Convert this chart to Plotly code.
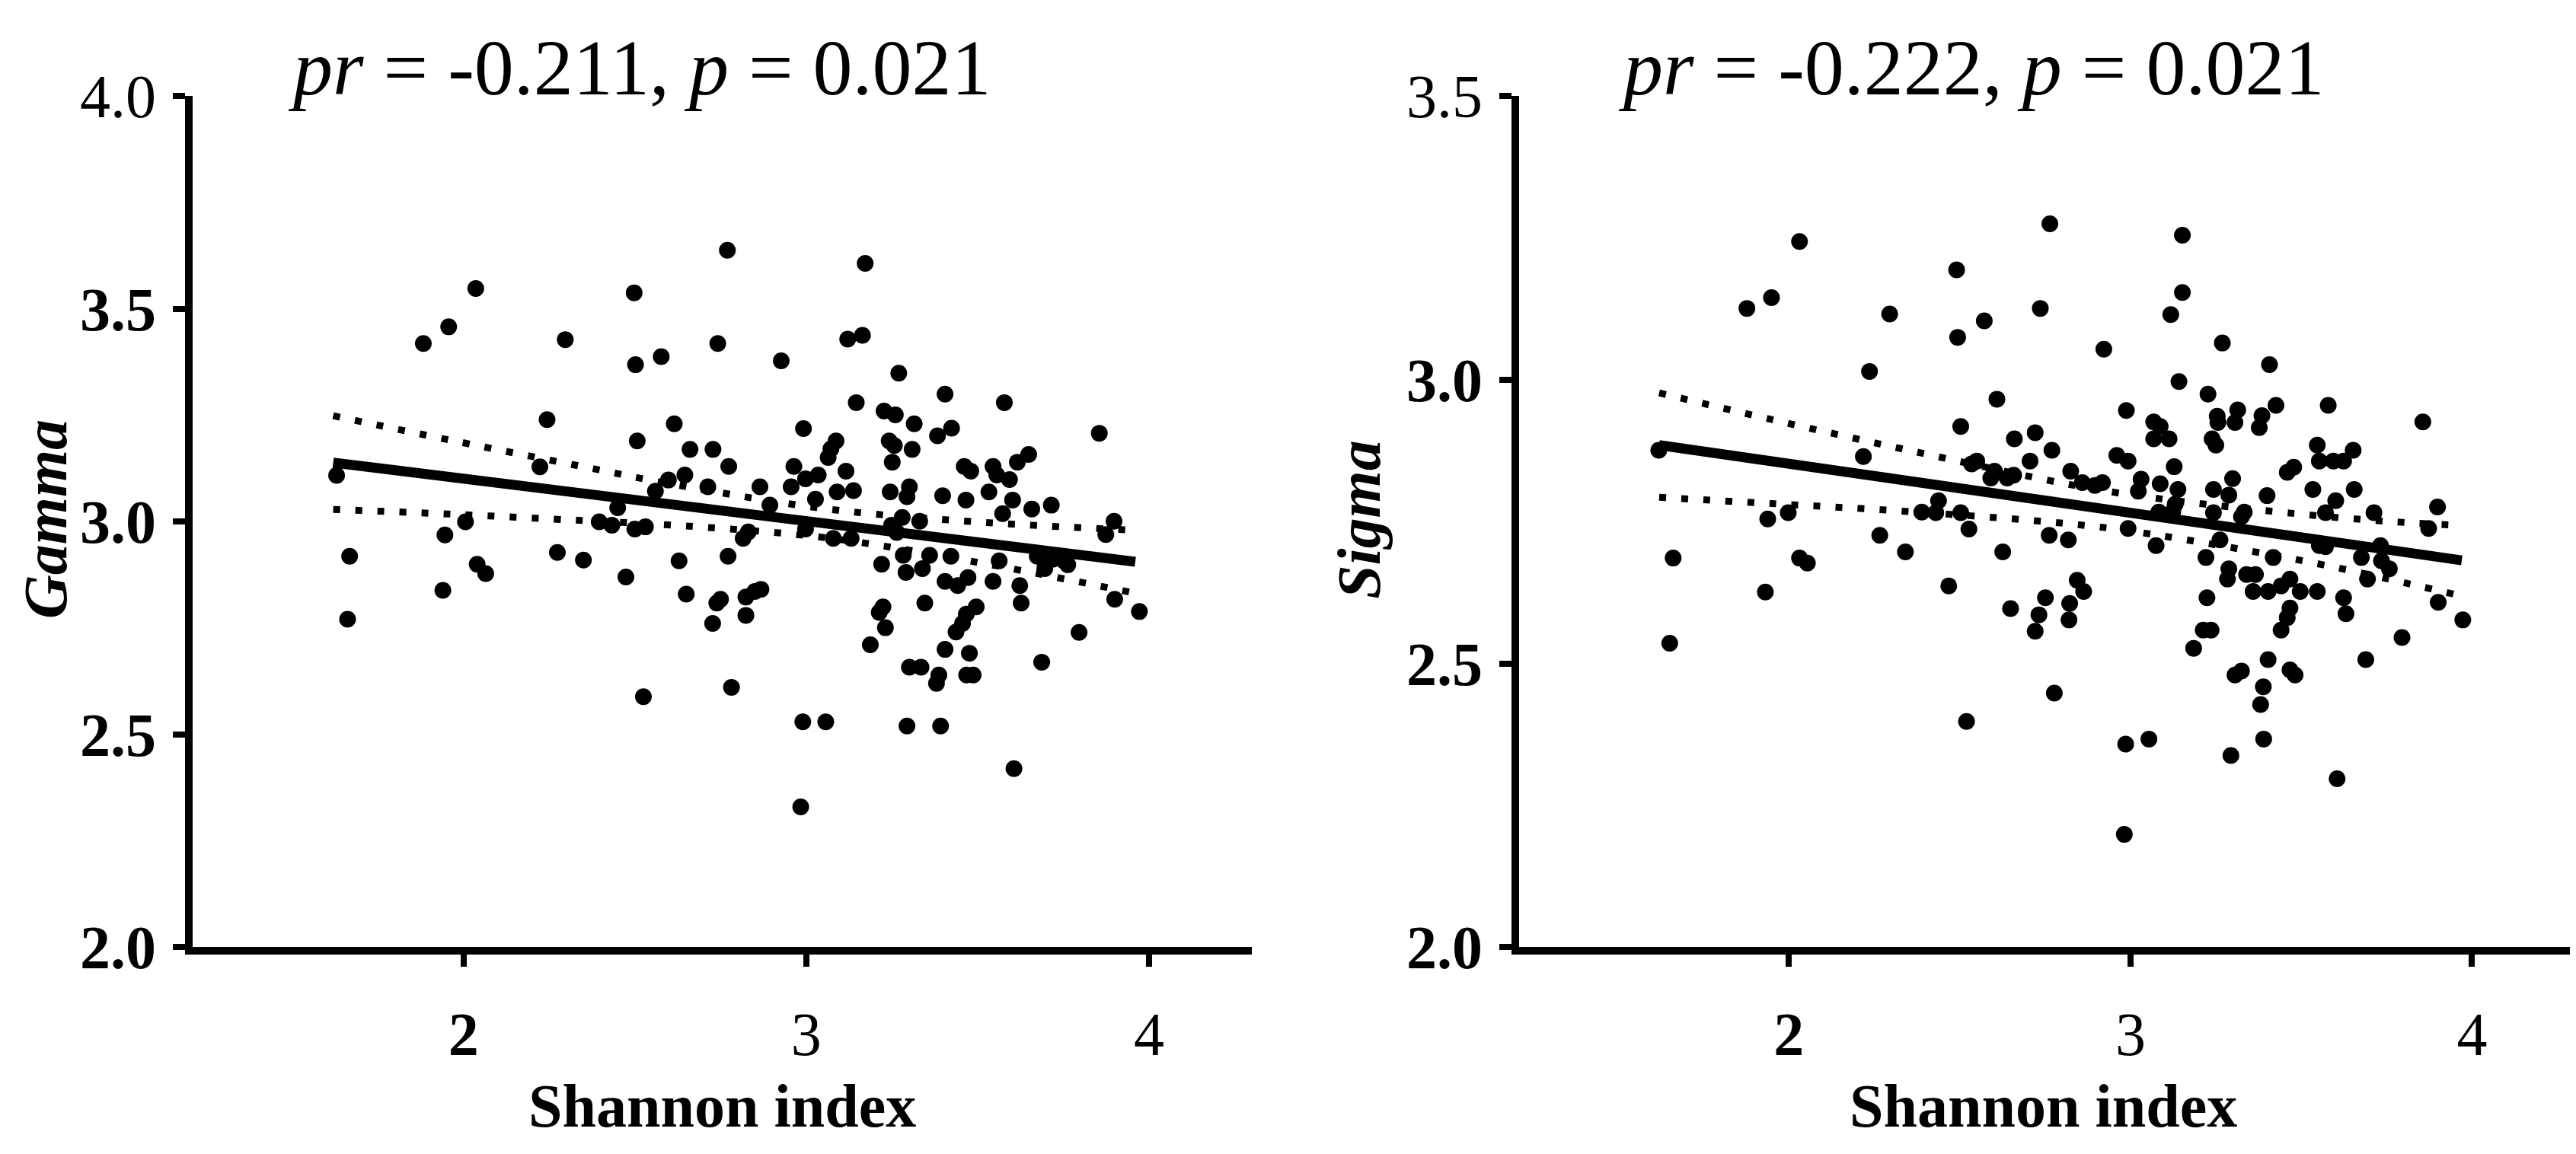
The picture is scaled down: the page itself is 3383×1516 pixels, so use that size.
import plotly.graph_objects as go

# ---------------- data ----------------
gamma_x = [2.036, 1.957, 1.883, 2.297, 2.244, 2.223, 1.630, 1.668, 1.662, 1.946, 2.006, 2.040, 2.065, 1.940,
           2.274, 2.350, 2.396, 2.433, 2.498, 2.502, 2.577, 2.615, 2.507, 2.661, 2.598, 2.646, 2.560, 2.450,
           2.500, 2.531, 2.474, 2.629, 2.650, 2.525, 2.770, 3.172, 2.742, 2.927, 3.121, 3.164, 3.270, 3.146,
           3.227, 3.260, 3.315, 2.992, 2.728, 2.774, 3.087, 3.072, 3.064, 3.242, 3.257, 3.309, 3.251, 2.964,
           3.116, 2.998, 3.035, 2.956, 2.713, 2.865, 3.090, 3.138, 3.245, 3.301, 3.294, 3.027, 2.894, 2.816,
           2.831, 2.998, 3.079, 3.131, 3.249, 3.280, 3.331, 3.264, 2.772, 3.220, 3.283, 3.291, 3.339, 2.750,
           2.739, 2.727, 2.824, 2.850, 2.868, 2.824, 3.224, 3.213, 3.231, 3.187, 3.346, 3.301, 3.335, 2.782,
           2.990, 3.057, 3.294, 2.984, 3.405, 3.578, 3.383, 3.424, 3.855, 3.461, 3.480, 3.545, 3.556, 3.593,
           3.616, 3.649, 3.398, 3.466, 3.533, 3.602, 3.573, 3.658, 3.715, 3.898, 3.874, 3.360, 3.422, 3.563,
           3.674, 3.696, 3.719, 3.752, 3.763, 3.405, 3.442, 3.472, 3.545, 3.623, 3.627, 3.900, 3.972, 3.496,
           3.467, 3.456, 3.437, 3.796, 3.405, 3.476, 3.468, 3.487, 3.387, 3.380, 3.687, 3.392, 3.606]
gamma_y = [3.548, 3.458, 3.419, 3.428, 3.240, 3.129, 3.109, 2.919, 2.771, 2.969, 3.000, 2.900, 2.878, 2.839,
           2.928, 2.910, 3.000, 2.992, 3.538, 3.369, 3.388, 3.230, 3.190, 3.170, 3.098, 3.110, 3.072, 3.033,
           2.983, 2.988, 2.870, 2.908, 2.830, 2.589, 3.638, 3.607, 3.419, 3.378, 3.429, 3.438, 3.349, 3.280,
           3.260, 3.251, 3.230, 3.219, 3.170, 3.130, 3.190, 3.171, 3.151, 3.190, 3.179, 3.170, 3.140, 3.130,
           3.119, 3.101, 3.110, 3.082, 3.082, 3.082, 3.070, 3.073, 3.070, 3.082, 3.059, 3.053, 3.039, 2.961,
           2.976, 2.983, 2.961, 2.961, 2.992, 3.010, 3.001, 2.975, 2.919, 2.900, 2.921, 2.881, 2.890, 2.818,
           2.809, 2.761, 2.823, 2.836, 2.841, 2.780, 2.800, 2.787, 2.751, 2.711, 2.809, 2.658, 2.658, 2.611,
           2.530, 2.530, 2.520, 2.330, 3.300, 3.280, 3.202, 3.220, 3.208, 3.130, 3.119, 3.130, 3.110, 3.099,
           3.140, 3.158, 3.061, 3.051, 3.070, 3.051, 3.019, 3.030, 3.039, 3.001, 2.970, 2.921, 2.919, 2.908,
           2.919, 2.890, 2.912, 2.908, 2.899, 2.860, 2.850, 2.869, 2.860, 2.850, 2.809, 2.818, 2.789, 2.800,
           2.783, 2.761, 2.741, 2.740, 2.700, 2.691, 2.640, 2.640, 2.640, 2.620, 2.670, 2.520, 2.420]

sigma_x = [2.031, 1.949, 1.877, 2.295, 2.236, 1.619, 2.218, 1.938, 1.998, 1.661, 2.031, 2.054, 1.931, 2.266,
           2.341, 1.651, 2.764, 2.491, 2.736, 2.572, 2.494, 3.152, 3.152, 3.118, 2.922, 3.142, 2.609, 2.988,
           2.503, 3.068, 3.087, 3.068, 3.113, 2.660, 2.721, 2.770, 2.706, 2.550, 2.535, 2.960, 2.993, 3.128,
           2.602, 2.591, 2.639, 2.658, 2.825, 2.859, 2.896, 2.918, 3.031, 3.023, 3.087, 3.139, 3.131, 2.438,
           2.389, 2.430, 2.503, 2.527, 2.762, 2.818, 2.993, 3.075, 3.083, 3.124, 2.626, 2.468, 2.844, 2.863,
           2.751, 2.822, 2.649, 2.732, 2.721, 2.820, 2.777, 2.520, 2.986, 3.054, 2.982, 3.269, 3.407, 3.227,
           3.254, 3.256, 3.314, 3.306, 3.385, 3.377, 3.426, 3.579, 3.856, 3.239, 3.250, 3.547, 3.652, 3.553,
           3.594, 3.624, 3.299, 3.459, 3.478, 3.243, 3.288, 3.400, 3.534, 3.655, 3.601, 3.899, 3.243, 3.325,
           3.333, 3.571, 3.713, 3.873, 3.262, 3.553, 3.571, 3.732, 3.221, 3.418, 3.676, 3.735, 3.758, 3.288,
           3.284, 3.340, 3.366, 3.694, 3.359, 3.403, 3.441, 3.467, 3.497, 3.547, 3.224, 3.624, 3.631, 3.901,
           3.973, 3.467, 3.459, 3.441, 3.213, 3.236, 3.185, 3.795, 3.403, 3.689, 3.306, 3.325, 3.467, 3.482,
           3.389, 3.381, 3.390, 3.294, 3.605]
sigma_y = [3.244, 3.145, 3.126, 3.116, 3.015, 2.876, 2.865, 2.755, 2.766, 2.686, 2.686, 2.677, 2.626, 2.726,
           2.697, 2.536, 3.275, 3.194, 3.126, 3.104, 3.075, 3.255, 3.154, 3.115, 3.054, 2.997, 2.966, 2.946,
           2.918, 2.926, 2.918, 2.896, 2.896, 2.896, 2.907, 2.876, 2.857, 2.857, 2.852, 2.867, 2.857, 2.847,
           2.839, 2.827, 2.827, 2.832, 2.839, 2.819, 2.814, 2.819, 2.825, 2.804, 2.817, 2.807, 2.781, 2.787,
           2.767, 2.766, 2.766, 2.737, 2.726, 2.718, 2.738, 2.708, 2.767, 2.768, 2.697, 2.637, 2.647, 2.627,
           2.616, 2.606, 2.597, 2.586, 2.557, 2.577, 2.448, 2.398, 2.358, 2.367, 2.199, 3.065, 3.027, 2.975,
           2.936, 2.925, 2.947, 2.925, 2.937, 2.916, 2.955, 2.955, 2.926, 2.896, 2.885, 2.885, 2.876, 2.857,
           2.857, 2.857, 2.826, 2.837, 2.846, 2.807, 2.797, 2.796, 2.807, 2.807, 2.787, 2.776, 2.766, 2.759,
           2.767, 2.766, 2.766, 2.738, 2.718, 2.708, 2.706, 2.708, 2.687, 2.687, 2.687, 2.681, 2.667, 2.667,
           2.649, 2.657, 2.657, 2.649, 2.627, 2.627, 2.637, 2.649, 2.627, 2.627, 2.616, 2.616, 2.588, 2.608,
           2.577, 2.598, 2.581, 2.559, 2.559, 2.559, 2.527, 2.546, 2.507, 2.507, 2.480, 2.487, 2.489, 2.480,
           2.459, 2.428, 2.367, 2.338, 2.297]

# regression lines and 95% confidence bands
gamma_fit_x = [1.62, 3.96]
gamma_fit_y = [3.139, 2.906]
gamma_ci_x = [1.62, 1.96, 2.42, 2.55, 3.05, 3.49, 3.96]
gamma_ci_hi = [3.249, 3.192, 3.118, 3.097, 3.031, 3.000, 2.980]
gamma_ci_lo = [3.029, 3.018, 3.000, 2.995, 2.963, 2.906, 2.832]

sigma_fit_x = [1.62, 3.97]
sigma_fit_y = [2.885, 2.682]
sigma_ci_x = [1.62, 1.95, 2.35, 2.81, 3.03, 3.54, 3.82, 3.95]
sigma_ci_hi = [2.977, 2.930, 2.876, 2.817, 2.795, 2.761, 2.748, 2.744]
sigma_ci_lo = [2.793, 2.782, 2.768, 2.747, 2.731, 2.677, 2.640, 2.622]

gamma_ticks = [2.0, 2.5, 3.0, 3.5, 4.0]
gamma_ticktext = ["<b>2.0</b>", "<b>2.5</b>", "<b>3.0</b>", "<b>3.5</b>", "4.0"]
sigma_ticks = [2.0, 2.5, 3.0, 3.5]
sigma_ticktext = ["<b>2.0</b>", "<b>2.5</b>", "<b>3.0</b>", "3.5"]
x_ticks = [2, 3, 4]
x_ticktext = ["<b>2</b>", "3", "4"]

titles = ["<i>pr</i> = -0.211, <i>p</i> = 0.021", "<i>pr</i> = -0.222, <i>p</i> = 0.021"]
y_titles = ["<b><i>Gamma</i></b>", "<b><i>Sigma</i></b>"]
x_title = "<b>Shannon index</b>"

# ---------------- figure ----------------
W, H = 3383, 1516
FONT = "Liberation Serif"
fig = go.Figure()

def add_panel(xs, ys, fx, fy, cx, chi, clo, xa, ya):
    fig.add_trace(go.Scatter(x=xs, y=ys, mode="markers", xaxis=xa, yaxis=ya,
                             marker=dict(color="black", size=22, line=dict(width=0)),
                             showlegend=False, cliponaxis=False))
    for cy in (chi, clo):
        fig.add_trace(go.Scatter(x=cx, y=cy, mode="lines", xaxis=xa, yaxis=ya,
                                 line=dict(color="black", width=9, dash="9px,20px", shape="spline"),
                                 showlegend=False))
    fig.add_trace(go.Scatter(x=fx, y=fy, mode="lines", xaxis=xa, yaxis=ya,
                             line=dict(color="black", width=13), showlegend=False))

add_panel(gamma_x, gamma_y, gamma_fit_x, gamma_fit_y, gamma_ci_x, gamma_ci_hi, gamma_ci_lo, "x", "y")
add_panel(sigma_x, sigma_y, sigma_fit_x, sigma_fit_y, sigma_ci_x, sigma_ci_hi, sigma_ci_lo, "x2", "y2")

ydom = [1 - 1267 / H, 1 - 80 / H]
common_x = dict(range=[1.21, 4.3], showline=True, linecolor="black", linewidth=10, ticks="outside",
                ticklen=16, tickwidth=8, tickcolor="black", showgrid=False, zeroline=False,
                tickvals=x_ticks, ticktext=x_ticktext, ticklabelstandoff=20,
                tickfont=dict(family=FONT, size=80, color="black"))
common_y = dict(showline=True, linecolor="black", linewidth=10, ticks="outside", ticklen=16, tickwidth=8,
                tickcolor="black", showgrid=False, zeroline=False, ticklabelstandoff=6,
                tickfont=dict(family=FONT, size=80, color="black"))

fig.update_layout(
    width=W, height=H, margin=dict(l=0, r=0, t=0, b=0),
    paper_bgcolor="white", plot_bgcolor="white",
    xaxis=dict(domain=[245 / W, 1636 / W], anchor="y", **common_x),
    xaxis2=dict(domain=[1987 / W, 3373 / W], anchor="y2", **common_x),
    yaxis=dict(domain=ydom, anchor="x", range=[2, 4], tickvals=gamma_ticks, ticktext=gamma_ticktext, **common_y),
    yaxis2=dict(domain=ydom, anchor="x2", range=[2, 3.5], tickvals=sigma_ticks, ticktext=sigma_ticktext, **common_y),
)

ann = []
for tx, xpx in zip(titles, [368, 2115]):
    ann.append(dict(text=tx, x=xpx / W, y=1 - 40 / H, xref="paper", yref="paper", xanchor="left",
                    yanchor="middle", showarrow=False, font=dict(family=FONT, size=104, color="black")))
for tx, xpx in zip(y_titles, [52, 1777]):
    ann.append(dict(text=tx, x=xpx / W, y=1 - 670 / H, xref="paper", yref="paper", xanchor="center",
                    yanchor="middle", textangle=-90, showarrow=False,
                    font=dict(family=FONT, size=80, color="black")))
for xpx in [940, 2675]:
    ann.append(dict(text=x_title, x=xpx / W, y=1 - 1488 / H, xref="paper", yref="paper", xanchor="center",
                    yanchor="middle", showarrow=False, font=dict(family=FONT, size=80, color="black")))
fig.update_layout(annotations=ann)

fig.write_html("out.html")
